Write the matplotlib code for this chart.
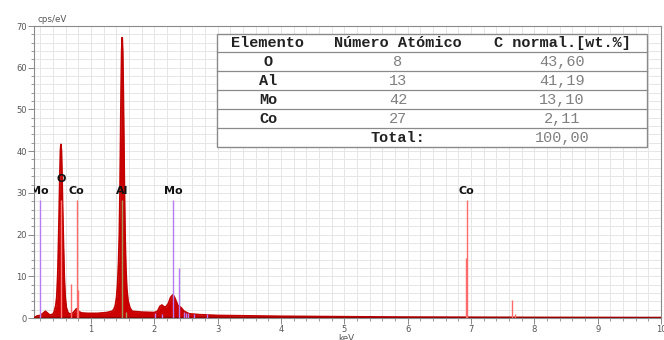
import numpy as np
import matplotlib.pyplot as plt
from matplotlib.patches import Rectangle
from matplotlib.lines import Line2D
from matplotlib.ticker import MultipleLocator

# EDS spectrum outline (keV, cps/eV)
spec_kev = [0.10, 0.15, 0.20, 0.25, 0.28, 0.31, 0.35, 0.40, 0.42,
            0.445, 0.46, 0.475, 0.488, 0.50, 0.51, 0.518, 0.525, 0.533,
            0.542, 0.552, 0.564, 0.577, 0.592, 0.61, 0.635, 0.66, 0.70, 0.74,
            0.77, 0.80, 0.85, 0.95, 1.10, 1.25, 1.33,
            1.36, 1.385, 1.405, 1.42, 1.435, 1.448, 1.458, 1.467, 1.476,
            1.485, 1.492, 1.500, 1.509, 1.518, 1.527, 1.537, 1.55, 1.565,
            1.585, 1.615, 1.65, 1.80, 2.00, 2.05, 2.09, 2.12, 2.15, 2.18,
            2.22, 2.26, 2.29, 2.31, 2.34, 2.37, 2.42, 2.47, 2.55, 2.70, 3.00,
            3.50, 4.00, 5.00, 6.00, 7.00, 8.00, 10.0]
spec_cps = [0.0, 0.5, 0.6, 1.2, 1.6, 1.2, 0.7, 0.9, 1.5,
            3.0, 5.0, 10.0, 18.0, 27.0, 35.0, 40.0, 41.6, 40.0,
            34.0, 26.0, 18.0, 10.0, 5.0, 2.5, 1.3, 1.0, 1.0, 1.6,
            2.2, 1.6, 1.2, 1.1, 1.1, 1.3, 1.6,
            2.0, 3.0, 5.0, 8.0, 13.0, 20.0, 30.0, 42.0, 55.0,
            64.0, 67.2, 64.0, 55.0, 43.0, 31.0, 20.0, 12.0, 7.0,
            4.0, 2.4, 1.6, 1.4, 1.3, 1.6, 2.8, 3.1, 2.7, 2.6,
            3.4, 5.0, 5.5, 5.2, 4.2, 3.0, 2.5, 1.6, 1.0, 0.8, 0.6,
            0.5, 0.4, 0.3, 0.2, 0.15, 0.1, 0.05]

# element marker lines (keV, height)
mo_kev = [0.193, 2.016, 2.12, 2.293, 2.395, 2.47, 2.50, 2.53, 2.63, 2.83]
mo_h = [28.4, 1.2, 1.0, 28.4, 12.0, 1.5, 1.2, 1.2, 1.0, 1.0]
co_kev = [0.678, 0.776, 0.791, 6.915, 6.930, 7.649, 7.69]
co_h = [8.2, 28.4, 6.7, 14.5, 28.4, 4.4, 1.0]
o_kev = [0.525]
o_h = [28.4]
al_kev = [1.486, 1.557]
al_h = [28.4, 1.4]

lbl_text = ["Mo", "O", "Co", "Al", "Mo", "Co"]
lbl_kev = [0.18, 0.525, 0.776, 1.486, 2.293, 6.93]
lbl_y = [30.4, 33.3, 30.4, 30.4, 30.4, 30.4]

# quantification table
tbl_head = ["Elemento", "Número Atómico", "C normal.[wt.%]"]
tbl_elem = ["O", "Al", "Mo", "Co"]
tbl_z = ["8", "13", "42", "27"]
tbl_wt = ["43,60", "41,19", "13,10", "2,11"]
tbl_total = "100,00"

W, H = 664, 340
fig = plt.figure(figsize=(W / 100, H / 100), dpi=100)
ax = fig.add_axes([34 / W, 22 / H, 627 / W, 292 / H])

ax.set_xlim(0.1, 10)
ax.set_ylim(0, 70)
ax.xaxis.set_major_locator(MultipleLocator(1))
ax.xaxis.set_minor_locator(MultipleLocator(0.2))
ax.yaxis.set_major_locator(MultipleLocator(10))
ax.yaxis.set_minor_locator(MultipleLocator(2))
ax.grid(which="both", color="#e6e6e6", lw=0.7, zorder=0)
ax.set_axisbelow(True)
for s in ax.spines.values():
    s.set_color("#8a8a8a")
    s.set_linewidth(0.8)
ax.tick_params(which="major", length=4, width=0.7, color="#8a8a8a",
               labelsize=6, labelcolor="#555555", pad=1.2)
ax.tick_params(which="minor", length=2.2, width=0.6, color="#8a8a8a")
ax.set_xticks(range(1, 11))

ax.fill_between(spec_kev, spec_cps, 0, color="#cc0000", lw=0, zorder=2)
ax.plot(spec_kev, spec_cps, color="#c20000", lw=1.3, zorder=3)
ax.axhline(0.15, color="#990000", lw=1.0, zorder=3)

for kev, hh, col in [(mo_kev, mo_h, "#b57cf5"), (co_kev, co_h, "#ff6a6a"),
                     (o_kev, o_h, "#ff7b7b"), (al_kev, al_h, "#a39a5c")]:
    ax.vlines(kev, 0, hh, colors=col, lw=1.0, zorder=4)

for t, x, y in zip(lbl_text, lbl_kev, lbl_y):
    ax.text(x, y, t, ha="center", va="center", fontsize=8, fontweight="bold",
            color="#111111", zorder=5, clip_on=True)

fig.text(37 / W, 1 - 19 / H, "cps/eV", fontsize=6.3, color="#555555",
         ha="left", va="center")
fig.text(346 / W, 1 - 338.5 / H, "keV", fontsize=6.3, color="#555555",
         ha="center", va="center")

# table drawn in figure pixels
def fx(px):
    return px / W

def fy(py):
    return 1 - py / H

x0, x1, y0, y1 = 217, 647, 34, 147
fig.add_artist(Rectangle((fx(x0), fy(y1)), fx(x1) - fx(x0), fy(y0) - fy(y1),
                         transform=fig.transFigure, facecolor="white",
                         edgecolor="#8a8a8a", lw=1.0, zorder=10))
for py in [52, 71, 90, 109, 128]:
    fig.add_artist(Line2D([fx(x0), fx(x1)], [fy(py), fy(py)],
                          transform=fig.transFigure, color="#8a8a8a",
                          lw=0.9, zorder=11))

cols = [268, 398, 562]
mono = "Liberation Mono"
fs = 11.0
for cx, t in zip(cols, tbl_head):
    fig.text(fx(cx), fy(43), t, family=mono, fontsize=fs, fontweight="bold",
             color="#222222", ha="center", va="center", zorder=12)
rows_y = [62, 81, 100, 119]
for ry, e, z, w in zip(rows_y, tbl_elem, tbl_z, tbl_wt):
    fig.text(fx(cols[0]), fy(ry), e, family=mono, fontsize=fs,
             fontweight="bold", color="#222222", ha="center", va="center",
             zorder=12)
    fig.text(fx(cols[1]), fy(ry), z, family=mono, fontsize=fs,
             color="#808080", ha="center", va="center", zorder=12)
    fig.text(fx(cols[2]), fy(ry), w, family=mono, fontsize=fs,
             color="#808080", ha="center", va="center", zorder=12)
fig.text(fx(cols[1]), fy(138), "Total:", family=mono, fontsize=fs,
         fontweight="bold", color="#222222", ha="center", va="center",
         zorder=12)
fig.text(fx(cols[2]), fy(138), tbl_total, family=mono, fontsize=fs,
         color="#808080", ha="center", va="center", zorder=12)

fig.savefig("out.png", dpi=100)
